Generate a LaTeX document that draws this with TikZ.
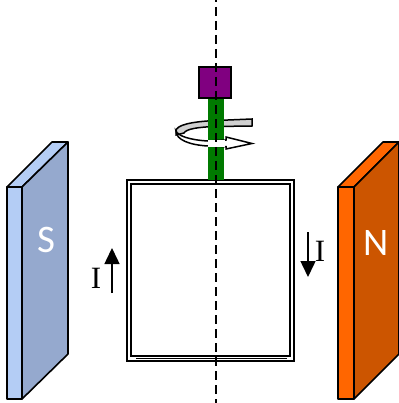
\documentclass[tikz,border=0pt]{standalone}
\usepackage{fontspec}
\setsansfont{Carlito}
\setmainfont{Liberation Serif}
\usetikzlibrary{arrows.meta}
\definecolor{sfront}{HTML}{B4CDF5}
\definecolor{sside}{HTML}{95A9CE}
\definecolor{nfront}{HTML}{FF6600}
\definecolor{nside}{HTML}{CC5500}
\definecolor{stem}{HTML}{007A00}
\definecolor{cap}{HTML}{800080}
\definecolor{band}{HTML}{D0D0D0}
\tikzset{
  mag/.style={draw=black,line width=1.6pt,line join=round},
  coil/.style={draw=black,line width=1.3pt,fill=white},
  cur/.style={line width=1.5pt,-{Triangle[length=16pt,width=15pt]}},
  pole/.style={text=white,font=\sffamily\fontsize{39}{39}\selectfont,inner sep=0pt},
  ilabel/.style={font=\rmfamily\fontsize{31}{31}\selectfont,inner sep=0pt},
  twist/.style={draw=black,line width=1.5pt,line join=miter}
}
\begin{document}
\begin{tikzpicture}[x=1pt,y=-1pt]
\useasboundingbox (0,0) rectangle (398,403);
% south magnet
\draw[mag,fill=sfront] (22,187) -- (68,142) -- (52,142) -- (7,187) -- cycle;
\draw[mag,fill=sfront] (7,187) rectangle (22,399);
\draw[mag,fill=sside] (22,187) -- (68,142) -- (68,354) -- (22,399) -- cycle;
\node[pole] (s) at (46,240) {S};
% north magnet
\draw[mag,fill=nfront] (354,187) -- (399,142) -- (383,142) -- (338,187) -- cycle;
\draw[mag,fill=nfront] (338,187) rectangle (354,399);
\draw[mag,fill=nside] (354,187) -- (399,142) -- (399,354) -- (354,399) -- cycle;
\node[pole] (n) at (376,243) {N};
% coil
\draw[coil] (127,180) rectangle (294,361);
\draw[coil] (131,184) rectangle (290,356);
\draw[black,line width=1.3pt] (136,358.5) -- (287,358.5);
% back band
\draw[twist,fill=band] (252,119) -- (216,120.5) .. controls (192,121.5) and (176,125) .. (176,131)
  -- (176,135) -- (184,133) .. controls (186,129) and (198,127) .. (216,126.5) -- (252,126) -- cycle;
% shaft
\fill[stem] (208,98) rectangle (224,180);
% front band
\draw[twist,fill=white] (176,131) .. controls (178,136) and (190,140) .. (208,141)
  -- (226,140) -- (226,137) -- (252,143.5) -- (226,149) -- (226,146.7)
  -- (208,146) .. controls (190,145) and (176,140) .. (176,131) -- cycle;
\fill[white] (208,140.4) rectangle (225,146.6);
% cap
\draw[black,line width=1.6pt,fill=cap] (199,67) rectangle (231,98);
% axis
\coordinate (axt) at (216,0);
\coordinate (axb) at (216,403);
\draw[black,line width=2pt,dash pattern=on 9pt off 5pt,dash phase=7pt] (axt) -- (axb);
% currents
\coordinate (ua) at (112,293);
\coordinate (ub) at (112,248);
\draw[cur] (ua) -- (ub);
\coordinate (da) at (308,232);
\coordinate (db) at (308,277);
\draw[cur] (da) -- (db);
\node[ilabel] (il) at (96,278) {I};
\node[ilabel] (ir) at (320,251) {I};
\end{tikzpicture}
\end{document}
